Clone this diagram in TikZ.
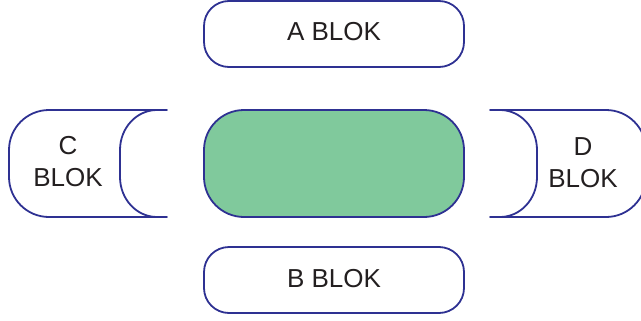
\documentclass[tikz,border=0pt]{standalone}
\usepackage{fontspec}
\setmainfont{Liberation Sans}
\definecolor{edgeblue}{HTML}{2E3192}
\definecolor{fillgreen}{HTML}{80C99C}
\definecolor{txtgray}{HTML}{231F20}
\begin{document}
\begin{tikzpicture}[x=1bp,y=1bp,
  blockline/.style={draw=edgeblue,line width=1.8bp,line join=round},
  lbl/.style={font=\fontsize{26bp}{32bp}\selectfont,text=txtgray,align=center,inner sep=0pt}]
\useasboundingbox (0,0) rectangle (641,320);
\clip (0,0) rectangle (641,320);
% A block
\draw[blockline,rounded corners=25bp] (204,253) rectangle (464,319);
\node[lbl] (a) at (334,288) {A BLOK};
% B block
\draw[blockline,rounded corners=25bp] (204,7) rectangle (464,73);
\node[lbl] (b) at (334,41) {B BLOK};
% centre block
\draw[blockline,fill=fillgreen,rounded corners=40bp] (204,103) rectangle (464,210);
\coordinate (centre) at (334,156.5);
% C block
\draw[blockline] (167,210) -- (49,210) arc[start angle=90,end angle=180,radius=40]
  -- (9,143) arc[start angle=180,end angle=270,radius=40]
  -- (167,103) -- (157,103)
  arc[start angle=-90,end angle=-180,x radius=37,y radius=40]
  -- (120,170)
  arc[start angle=180,end angle=90,x radius=37,y radius=40]
  -- cycle;
\node[lbl] (c) at (68,158) {C\\BLOK};
% D block
\draw[blockline] (490,210) -- (606,210) arc[start angle=90,end angle=0,radius=40]
  -- (646,143) arc[start angle=0,end angle=-90,radius=40]
  -- (490,103) -- (500,103)
  arc[start angle=-90,end angle=0,x radius=37,y radius=40]
  -- (537,170)
  arc[start angle=0,end angle=90,x radius=37,y radius=40]
  -- cycle;
\node[lbl] (d) at (583,157) {D\\BLOK};
\end{tikzpicture}
\end{document}
